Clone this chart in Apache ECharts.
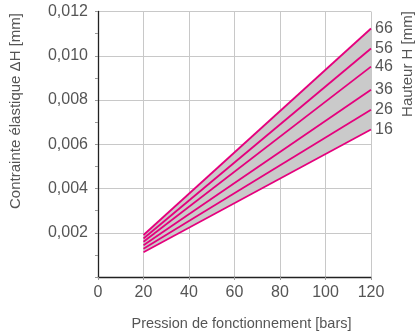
<!DOCTYPE html>
<html><head><meta charset="utf-8">
<script src="https://cdn.jsdelivr.net/npm/echarts@6/dist/echarts.min.js"></script>
<style>html,body{margin:0;padding:0;background:#fff}#c{width:417px;height:336px}</style>
</head><body><div id="c"></div>
<script>
const heights = ['16','26','36','46','56','66'];
const pressures = [20, 120];
const at20  = [0.00112, 0.00128, 0.00143, 0.00159, 0.00174, 0.00190];
const at120 = [0.00667, 0.00756, 0.00846, 0.00951, 0.01033, 0.01123];
const xTicks = [0, 20, 40, 60, 80, 100, 120];
const yTicks = [0, 0.002, 0.004, 0.006, 0.008, 0.010, 0.012];

const FONT = 'Liberation Sans, Arial, sans-serif';
const TXT = '#555';
const PINK = '#e5007d';

const series = [];
// gray band between lowest and highest line
series.push({
  type:'custom', silent:true, z:1,
  data: [[pressures[0], at20[0], at20[5], pressures[1], at120[0], at120[5]]],
  renderItem: (params, api) => {
    const p1 = api.coord([api.value(0), api.value(1)]);
    const p2 = api.coord([api.value(0), api.value(2)]);
    const p3 = api.coord([api.value(3), api.value(5)]);
    const p4 = api.coord([api.value(3), api.value(4)]);
    return {type:'polygon', shape:{points:[p1,p2,p3,p4]}, style:{fill:'#cacaca'}};
  },
  encode:{x:[0,3], y:[1,2,4,5]}
});
heights.forEach((h,k)=>{
  series.push({
    type:'line', name:h, symbol:'none', z:5,
    lineStyle:{color:PINK, width:1.8},
    data: [[pressures[0], at20[k]], [pressures[1], at120[k]]],
    endLabel:{show:true, formatter:h, color:TXT, fontSize:16, fontFamily:FONT, distance:4}
  });
});

const chart = echarts.init(document.getElementById('c'));
chart.setOption({
  animation:false,
  grid:{left:98, right:46, top:11.5, bottom:51, containLabel:false},
  xAxis:{
    type:'value', min:0, max:120, interval:20,
    name:'Pression de fonctionnement [bars]', nameLocation:'middle', nameGap:39,
    nameTextStyle:{color:TXT, fontSize:14.5, fontFamily:FONT, padding:[0,0,0,14]},
    axisLine:{show:true, onZero:false, lineStyle:{color:'#222', width:1.3}},
    axisTick:{show:true, length:3, lineStyle:{color:'#999'}},
    axisLabel:{color:TXT, fontSize:16, fontFamily:FONT, margin:8},
    splitLine:{show:true, lineStyle:{color:'#c8c8c8', width:1}}
  },
  yAxis:{
    type:'value', min:0, max:0.012, interval:0.002,
    axisLine:{show:true, lineStyle:{color:'#222', width:1.3}},
    axisTick:{show:true, length:3, lineStyle:{color:'#999'}},
    minorTick:{show:true, splitNumber:2, length:3, lineStyle:{color:'#999'}},
    axisLabel:{color:TXT, fontSize:16, fontFamily:FONT, margin:10,
      formatter: v => (v===0 ? '' : v.toFixed(3).replace('.', ','))},
    splitLine:{show:true, lineStyle:{color:'#c8c8c8', width:1}}
  },
  graphic:[
    {type:'text', x:16, y:111, rotation:Math.PI/2,
     style:{text:'Contrainte élastique ΔH [mm]', fill:TXT, font:'15px '+FONT, textAlign:'center', textVerticalAlign:'middle'}},
    {type:'text', x:408, y:64, rotation:Math.PI/2,
     style:{text:'Hauteur H [mm]', fill:TXT, font:'15px '+FONT, textAlign:'center', textVerticalAlign:'middle'}}
  ],
  series: series
});
</script></body></html>
